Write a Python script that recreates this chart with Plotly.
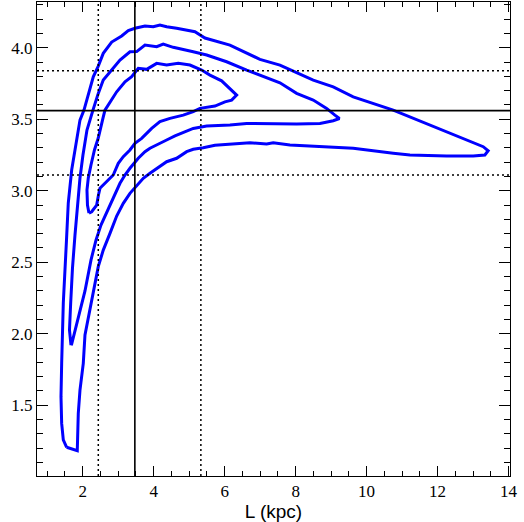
import plotly.graph_objects as go

# contour levels (L in kpc, second coordinate)
outer_L = [1.549, 1.454, 1.408, 1.389, 1.408, 1.431, 1.454, 1.544, 1.594, 1.690,
           1.783, 1.924, 2.037, 2.177, 2.299, 2.439, 2.580, 2.817, 3.099, 3.285,
           3.473, 3.755, 3.989, 4.177, 4.366, 4.648, 5.163, 5.445, 6.149, 6.994,
           7.558, 7.980, 8.496, 9.059, 9.623, 10.749, 11.876, 12.817, 13.285, 13.425,
           13.332, 13.003, 12.254, 11.220, 10.749, 9.623, 8.496, 7.839, 7.369, 7.183,
           6.713, 6.242, 5.727, 5.397, 5.115, 4.930, 4.648, 4.366, 4.085, 3.896,
           3.707, 3.473, 3.332, 3.144, 2.958, 2.769, 2.580, 2.439, 2.346, 2.254,
           2.158, 2.065, 2.017, 1.924, 1.876, 1.859, 1.848]
outer_z = [1.206, 1.257, 1.373, 1.560, 1.793, 2.026, 2.215, 2.655, 2.914, 3.145,
           3.285, 3.494, 3.564, 3.690, 3.797, 3.872, 3.961, 4.040, 4.082, 4.120,
           4.136, 4.152, 4.147, 4.159, 4.147, 4.136, 4.112, 4.068, 4.019, 3.919,
           3.879, 3.832, 3.774, 3.727, 3.657, 3.564, 3.448, 3.355, 3.308, 3.280,
           3.250, 3.243, 3.243, 3.250, 3.262, 3.297, 3.313, 3.320, 3.336, 3.327,
           3.336, 3.325, 3.318, 3.301, 3.290, 3.273, 3.227, 3.203, 3.157, 3.122,
           3.087, 3.024, 2.982, 2.912, 2.823, 2.702, 2.585, 2.469, 2.353, 2.236,
           2.119, 1.991, 1.793, 1.606, 1.443, 1.327, 1.182]

mid_L = [1.670, 1.628, 1.662, 1.713, 1.783, 1.854, 1.924, 2.008, 2.121, 2.290,
         2.439, 2.580, 2.817, 3.051, 3.332, 3.521, 3.755, 4.085, 4.270, 4.552,
         5.115, 5.493, 6.056, 6.620, 7.558, 8.028, 8.496, 8.873, 9.107, 9.234,
         9.059, 8.685, 8.028, 7.276, 6.620, 6.149, 5.493, 5.115, 4.882, 4.600,
         4.366, 3.896, 3.755, 3.566, 3.332, 3.192, 3.051, 2.862, 2.713, 2.515,
         2.375, 2.234, 2.065, 1.876, 1.727, 1.690]
mid_z = [1.921, 2.026, 2.215, 2.460, 2.690, 2.914, 3.089, 3.250, 3.425, 3.564,
         3.681, 3.774, 3.844, 3.914, 3.972, 3.973, 4.019, 4.007, 4.026, 4.003,
         3.972, 3.949, 3.902, 3.844, 3.755, 3.681, 3.634, 3.576, 3.529, 3.505,
         3.490, 3.471, 3.467, 3.467, 3.471, 3.460, 3.453, 3.436, 3.413, 3.383,
         3.355, 3.297, 3.273, 3.227, 3.157, 3.110, 3.052, 2.949, 2.865, 2.760,
         2.655, 2.515, 2.299, 2.110, 1.956, 1.928]

inner_L = [2.177, 2.135, 2.121, 2.158, 2.234, 2.332, 2.439, 2.487, 2.572, 2.628,
           2.769, 2.958, 3.192, 3.380, 3.566, 3.803, 4.085, 4.366, 4.693, 5.023,
           5.352, 5.586, 5.915, 6.101, 6.338, 6.197, 6.008, 5.727, 5.304, 5.115,
           4.834, 4.459, 4.177, 3.944, 3.803, 3.662, 3.473, 3.332, 3.144, 3.003,
           2.862, 2.676, 2.487, 2.445, 2.394, 2.254]
inner_z = [2.844, 2.900, 3.005, 3.089, 3.180, 3.285, 3.369, 3.425, 3.508, 3.564,
           3.622, 3.692, 3.762, 3.797, 3.856, 3.849, 3.891, 3.879, 3.891, 3.879,
           3.844, 3.809, 3.769, 3.727, 3.669, 3.634, 3.622, 3.592, 3.576, 3.553,
           3.529, 3.506, 3.483, 3.436, 3.401, 3.366, 3.332, 3.285, 3.238, 3.192,
           3.110, 3.063, 3.017, 2.970, 2.900, 2.853]

best_L = 3.47
best_z = 3.56
L_err = [2.44, 5.33]
z_err = [3.11, 3.84]

fig = go.Figure()
for xs, ys in [(outer_L, outer_z), (mid_L, mid_z), (inner_L, inner_z)]:
    fig.add_trace(go.Scatter(x=xs + xs[:1], y=ys + ys[:1], mode="lines",
                             line=dict(color="#0000ff", width=3), showlegend=False))

fig.add_vline(x=best_L, line=dict(color="black", width=1.6))
fig.add_hline(y=best_z, line=dict(color="black", width=1.6))
for v in L_err:
    fig.add_vline(x=v, line=dict(color="black", width=1.5, dash="2px,3px"))
for v in z_err:
    fig.add_hline(y=v, line=dict(color="black", width=1.5, dash="2px,3px"))

serif = "Liberation Serif"
fig.update_xaxes(range=[0.713, 14.04], tick0=0, dtick=2, ticks="inside", ticklen=10,
                 tickcolor="black", minor=dict(tick0=0, dtick=0.5, ticks="inside", ticklen=5, tickcolor="black"),
                 showline=True, linecolor="black", linewidth=1, mirror="allticks",
                 showgrid=False, zeroline=False, automargin=False,
                 tickfont=dict(family=serif, size=17, color="black"),
                 title=dict(text="L (kpc)", font=dict(family="Liberation Sans", size=19, color="black"),
                            standoff=8))
fig.update_yaxes(range=[1.005, 4.32], tick0=0, dtick=0.5, tickformat=".1f", ticks="inside", ticklen=11,
                 tickcolor="black", minor=dict(tick0=0, dtick=0.1, ticks="inside", ticklen=6, tickcolor="black"),
                 showline=True, linecolor="black", linewidth=1, mirror="allticks",
                 showgrid=False, zeroline=False, automargin=False,
                 tickfont=dict(family=serif, size=17, color="black"))
fig.update_layout(width=524, height=522, margin=dict(l=37, r=14, t=2, b=46),
                  plot_bgcolor="white", paper_bgcolor="white")
# page body has a default 8px margin; drop it so the figure sits at the corner
fig.write_html("out.html", config={"displayModeBar": False},
               post_script="document.body.style.margin='0';")
